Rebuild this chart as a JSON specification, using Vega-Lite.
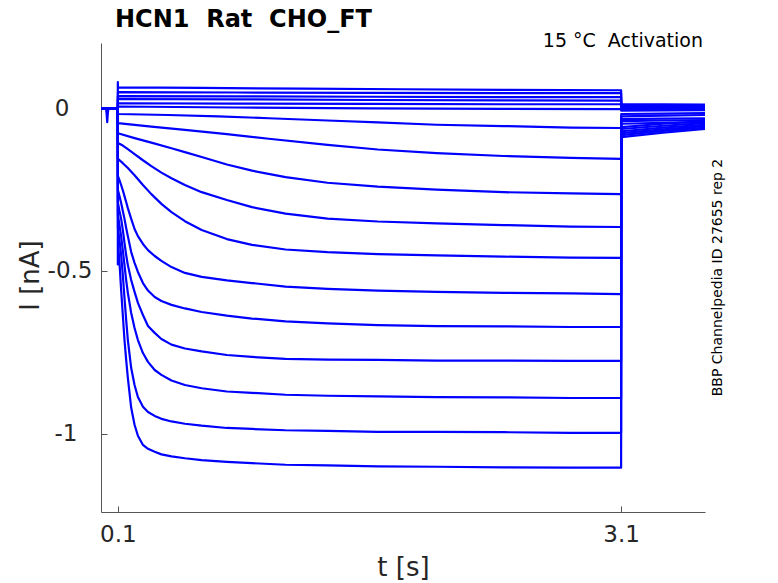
{
  "$schema": "https://vega.github.io/schema/vega-lite/v6.json",
  "description": "HCN1 rat CHO_FT activation sweeps at 15 C",
  "width": 604,
  "height": 469,
  "autosize": {"type": "none"},
  "padding": {"left": 101, "top": 43, "right": 73, "bottom": 71},
  "background": "#ffffff",
  "datasets": {
    "sweeps": [
      {"s": 1, "t": 0, "I": 0}, {"s": 1, "t": 0.03, "I": 0}, {"s": 1, "t": 0.034, "I": -0.02}, {"s": 1, "t": 0.037, "I": -0.043}, {"s": 1, "t": 0.04, "I": -0.02}, {"s": 1, "t": 0.044, "I": 0}, {"s": 1, "t": 0.1, "I": 0},
      {"s": 1, "t": 0.1004, "I": 0.08}, {"s": 1, "t": 0.101, "I": 0.064}, {"s": 1, "t": 0.6, "I": 0.062}, {"s": 1, "t": 1.2, "I": 0.06}, {"s": 1, "t": 1.8, "I": 0.058}, {"s": 1, "t": 2.4, "I": 0.056}, {"s": 1, "t": 3.1, "I": 0.055},
      {"s": 1, "t": 3.101, "I": 0.012}, {"s": 1, "t": 3.35, "I": 0.012}, {"s": 1, "t": 3.6, "I": 0.011},

      {"s": 2, "t": 0, "I": 0}, {"s": 2, "t": 0.1, "I": 0}, {"s": 2, "t": 0.101, "I": 0.049}, {"s": 2, "t": 0.8, "I": 0.048}, {"s": 2, "t": 1.6, "I": 0.047}, {"s": 2, "t": 2.4, "I": 0.046}, {"s": 2, "t": 3.1, "I": 0.046},
      {"s": 2, "t": 3.101, "I": 0.008}, {"s": 2, "t": 3.35, "I": 0.008}, {"s": 2, "t": 3.6, "I": 0.008},

      {"s": 3, "t": 0, "I": 0}, {"s": 3, "t": 0.1, "I": 0}, {"s": 3, "t": 0.101, "I": 0.037}, {"s": 3, "t": 0.8, "I": 0.036}, {"s": 3, "t": 1.6, "I": 0.035}, {"s": 3, "t": 2.4, "I": 0.034}, {"s": 3, "t": 3.1, "I": 0.034},
      {"s": 3, "t": 3.101, "I": 0.003}, {"s": 3, "t": 3.35, "I": 0.003}, {"s": 3, "t": 3.6, "I": 0.003},

      {"s": 4, "t": 0, "I": 0}, {"s": 4, "t": 0.1, "I": 0}, {"s": 4, "t": 0.101, "I": 0.028}, {"s": 4, "t": 0.8, "I": 0.027}, {"s": 4, "t": 1.6, "I": 0.025}, {"s": 4, "t": 2.4, "I": 0.024}, {"s": 4, "t": 3.1, "I": 0.023},
      {"s": 4, "t": 3.101, "I": 0}, {"s": 4, "t": 3.35, "I": 0}, {"s": 4, "t": 3.6, "I": 0},

      {"s": 5, "t": 0, "I": 0}, {"s": 5, "t": 0.1, "I": 0}, {"s": 5, "t": 0.101, "I": 0.015}, {"s": 5, "t": 0.8, "I": 0.014}, {"s": 5, "t": 1.6, "I": 0.013}, {"s": 5, "t": 2.4, "I": 0.012}, {"s": 5, "t": 3.1, "I": 0.012},
      {"s": 5, "t": 3.101, "I": -0.005}, {"s": 5, "t": 3.35, "I": -0.004}, {"s": 5, "t": 3.6, "I": -0.003},

      {"s": 6, "t": 0, "I": 0}, {"s": 6, "t": 0.1, "I": 0}, {"s": 6, "t": 0.101, "I": 0.005}, {"s": 6, "t": 0.8, "I": 0.002}, {"s": 6, "t": 1.6, "I": -0.001}, {"s": 6, "t": 2.4, "I": -0.002}, {"s": 6, "t": 3.1, "I": -0.003},
      {"s": 6, "t": 3.101, "I": -0.008}, {"s": 6, "t": 3.35, "I": -0.007}, {"s": 6, "t": 3.6, "I": -0.006},

      {"s": 7, "t": 0, "I": 0}, {"s": 7, "t": 0.1, "I": 0}, {"s": 7, "t": 0.101, "I": -0.018}, {"s": 7, "t": 0.4, "I": -0.021}, {"s": 7, "t": 0.7, "I": -0.025}, {"s": 7, "t": 1.0, "I": -0.031}, {"s": 7, "t": 1.35, "I": -0.038},
      {"s": 7, "t": 1.65, "I": -0.044}, {"s": 7, "t": 2.0, "I": -0.051}, {"s": 7, "t": 2.4, "I": -0.055}, {"s": 7, "t": 2.8, "I": -0.06}, {"s": 7, "t": 3.1, "I": -0.061},
      {"s": 7, "t": 3.101, "I": -0.018}, {"s": 7, "t": 3.35, "I": -0.017}, {"s": 7, "t": 3.6, "I": -0.015},

      {"s": 8, "t": 0, "I": 0}, {"s": 8, "t": 0.1, "I": 0}, {"s": 8, "t": 0.101, "I": -0.046}, {"s": 8, "t": 0.3, "I": -0.057}, {"s": 8, "t": 0.5, "I": -0.067}, {"s": 8, "t": 0.75, "I": -0.08}, {"s": 8, "t": 1.0, "I": -0.094},
      {"s": 8, "t": 1.35, "I": -0.113}, {"s": 8, "t": 1.65, "I": -0.127}, {"s": 8, "t": 2.0, "I": -0.138}, {"s": 8, "t": 2.4, "I": -0.147}, {"s": 8, "t": 2.8, "I": -0.153}, {"s": 8, "t": 3.1, "I": -0.156},
      {"s": 8, "t": 3.101, "I": -0.025}, {"s": 8, "t": 3.35, "I": -0.023}, {"s": 8, "t": 3.6, "I": -0.021},

      {"s": 9, "t": 0, "I": 0}, {"s": 9, "t": 0.1, "I": 0}, {"s": 9, "t": 0.101, "I": -0.077}, {"s": 9, "t": 0.2, "I": -0.092}, {"s": 9, "t": 0.3, "I": -0.106}, {"s": 9, "t": 0.42, "I": -0.123}, {"s": 9, "t": 0.5, "I": -0.135},
      {"s": 9, "t": 0.6, "I": -0.15}, {"s": 9, "t": 0.75, "I": -0.173}, {"s": 9, "t": 0.9, "I": -0.192}, {"s": 9, "t": 1.1, "I": -0.212}, {"s": 9, "t": 1.35, "I": -0.229}, {"s": 9, "t": 1.65, "I": -0.241},
      {"s": 9, "t": 2.0, "I": -0.25}, {"s": 9, "t": 2.4, "I": -0.258}, {"s": 9, "t": 2.8, "I": -0.262}, {"s": 9, "t": 3.1, "I": -0.264},
      {"s": 9, "t": 3.101, "I": -0.034}, {"s": 9, "t": 3.35, "I": -0.032}, {"s": 9, "t": 3.6, "I": -0.031},

      {"s": 10, "t": 0, "I": 0}, {"s": 10, "t": 0.1, "I": 0}, {"s": 10, "t": 0.101, "I": -0.107}, {"s": 10, "t": 0.13, "I": -0.115}, {"s": 10, "t": 0.16, "I": -0.126}, {"s": 10, "t": 0.2, "I": -0.141}, {"s": 10, "t": 0.25, "I": -0.16},
      {"s": 10, "t": 0.3, "I": -0.178}, {"s": 10, "t": 0.36, "I": -0.198}, {"s": 10, "t": 0.42, "I": -0.215}, {"s": 10, "t": 0.5, "I": -0.236}, {"s": 10, "t": 0.6, "I": -0.258}, {"s": 10, "t": 0.75, "I": -0.282},
      {"s": 10, "t": 0.9, "I": -0.304}, {"s": 10, "t": 1.1, "I": -0.324}, {"s": 10, "t": 1.35, "I": -0.339}, {"s": 10, "t": 1.65, "I": -0.348}, {"s": 10, "t": 2.0, "I": -0.354}, {"s": 10, "t": 2.4, "I": -0.359},
      {"s": 10, "t": 2.8, "I": -0.364}, {"s": 10, "t": 3.1, "I": -0.365},
      {"s": 10, "t": 3.101, "I": -0.04}, {"s": 10, "t": 3.35, "I": -0.038}, {"s": 10, "t": 3.6, "I": -0.037},

      {"s": 11, "t": 0, "I": 0}, {"s": 11, "t": 0.1, "I": 0}, {"s": 11, "t": 0.101, "I": -0.156}, {"s": 11, "t": 0.13, "I": -0.169}, {"s": 11, "t": 0.16, "I": -0.184}, {"s": 11, "t": 0.2, "I": -0.206}, {"s": 11, "t": 0.25, "I": -0.236},
      {"s": 11, "t": 0.3, "I": -0.264}, {"s": 11, "t": 0.36, "I": -0.294}, {"s": 11, "t": 0.42, "I": -0.319}, {"s": 11, "t": 0.5, "I": -0.347}, {"s": 11, "t": 0.6, "I": -0.374}, {"s": 11, "t": 0.75, "I": -0.402},
      {"s": 11, "t": 0.9, "I": -0.42}, {"s": 11, "t": 1.1, "I": -0.434}, {"s": 11, "t": 1.35, "I": -0.442}, {"s": 11, "t": 1.65, "I": -0.448}, {"s": 11, "t": 2.0, "I": -0.452}, {"s": 11, "t": 2.4, "I": -0.456},
      {"s": 11, "t": 2.8, "I": -0.459}, {"s": 11, "t": 3.1, "I": -0.46},
      {"s": 11, "t": 3.101, "I": -0.048}, {"s": 11, "t": 3.35, "I": -0.045}, {"s": 11, "t": 3.6, "I": -0.043},

      {"s": 12, "t": 0, "I": 0}, {"s": 12, "t": 0.1, "I": 0}, {"s": 12, "t": 0.101, "I": -0.209}, {"s": 12, "t": 0.11, "I": -0.221}, {"s": 12, "t": 0.12, "I": -0.236}, {"s": 12, "t": 0.13, "I": -0.252}, {"s": 12, "t": 0.14, "I": -0.27},
      {"s": 12, "t": 0.15, "I": -0.288}, {"s": 12, "t": 0.16, "I": -0.307}, {"s": 12, "t": 0.18, "I": -0.34}, {"s": 12, "t": 0.2, "I": -0.371}, {"s": 12, "t": 0.22, "I": -0.393}, {"s": 12, "t": 0.25, "I": -0.417},
      {"s": 12, "t": 0.28, "I": -0.436}, {"s": 12, "t": 0.32, "I": -0.454}, {"s": 12, "t": 0.36, "I": -0.469}, {"s": 12, "t": 0.42, "I": -0.488}, {"s": 12, "t": 0.5, "I": -0.506}, {"s": 12, "t": 0.6, "I": -0.518},
      {"s": 12, "t": 0.75, "I": -0.529}, {"s": 12, "t": 0.9, "I": -0.537}, {"s": 12, "t": 1.1, "I": -0.548}, {"s": 12, "t": 1.35, "I": -0.555}, {"s": 12, "t": 1.65, "I": -0.56}, {"s": 12, "t": 2.0, "I": -0.564},
      {"s": 12, "t": 2.4, "I": -0.567}, {"s": 12, "t": 2.8, "I": -0.569}, {"s": 12, "t": 3.1, "I": -0.571},
      {"s": 12, "t": 3.101, "I": -0.058}, {"s": 12, "t": 3.35, "I": -0.048}, {"s": 12, "t": 3.6, "I": -0.04},

      {"s": 13, "t": 0, "I": 0}, {"s": 13, "t": 0.1, "I": 0}, {"s": 13, "t": 0.101, "I": -0.252}, {"s": 13, "t": 0.11, "I": -0.27}, {"s": 13, "t": 0.12, "I": -0.291}, {"s": 13, "t": 0.13, "I": -0.316}, {"s": 13, "t": 0.14, "I": -0.34},
      {"s": 13, "t": 0.15, "I": -0.368}, {"s": 13, "t": 0.16, "I": -0.393}, {"s": 13, "t": 0.18, "I": -0.442}, {"s": 13, "t": 0.2, "I": -0.475}, {"s": 13, "t": 0.22, "I": -0.503}, {"s": 13, "t": 0.25, "I": -0.537},
      {"s": 13, "t": 0.28, "I": -0.56}, {"s": 13, "t": 0.32, "I": -0.58}, {"s": 13, "t": 0.36, "I": -0.592}, {"s": 13, "t": 0.42, "I": -0.604}, {"s": 13, "t": 0.5, "I": -0.615}, {"s": 13, "t": 0.6, "I": -0.626},
      {"s": 13, "t": 0.75, "I": -0.637}, {"s": 13, "t": 0.9, "I": -0.646}, {"s": 13, "t": 1.1, "I": -0.655}, {"s": 13, "t": 1.35, "I": -0.661}, {"s": 13, "t": 1.65, "I": -0.666}, {"s": 13, "t": 2.0, "I": -0.669},
      {"s": 13, "t": 2.4, "I": -0.67}, {"s": 13, "t": 2.8, "I": -0.672}, {"s": 13, "t": 3.1, "I": -0.672},
      {"s": 13, "t": 3.101, "I": -0.064}, {"s": 13, "t": 3.35, "I": -0.054}, {"s": 13, "t": 3.6, "I": -0.046},

      {"s": 14, "t": 0, "I": 0}, {"s": 14, "t": 0.1, "I": 0}, {"s": 14, "t": 0.101, "I": -0.291}, {"s": 14, "t": 0.11, "I": -0.316}, {"s": 14, "t": 0.12, "I": -0.34}, {"s": 14, "t": 0.13, "I": -0.374}, {"s": 14, "t": 0.14, "I": -0.414},
      {"s": 14, "t": 0.15, "I": -0.451}, {"s": 14, "t": 0.16, "I": -0.482}, {"s": 14, "t": 0.18, "I": -0.528}, {"s": 14, "t": 0.2, "I": -0.564}, {"s": 14, "t": 0.22, "I": -0.598}, {"s": 14, "t": 0.25, "I": -0.635},
      {"s": 14, "t": 0.28, "I": -0.669}, {"s": 14, "t": 0.32, "I": -0.69}, {"s": 14, "t": 0.36, "I": -0.709}, {"s": 14, "t": 0.42, "I": -0.726}, {"s": 14, "t": 0.5, "I": -0.738}, {"s": 14, "t": 0.6, "I": -0.747},
      {"s": 14, "t": 0.75, "I": -0.758}, {"s": 14, "t": 0.9, "I": -0.764}, {"s": 14, "t": 1.1, "I": -0.77}, {"s": 14, "t": 1.35, "I": -0.772}, {"s": 14, "t": 1.65, "I": -0.773}, {"s": 14, "t": 2.0, "I": -0.775},
      {"s": 14, "t": 2.4, "I": -0.775}, {"s": 14, "t": 2.8, "I": -0.776}, {"s": 14, "t": 3.1, "I": -0.776},
      {"s": 14, "t": 3.101, "I": -0.071}, {"s": 14, "t": 3.35, "I": -0.06}, {"s": 14, "t": 3.6, "I": -0.051},

      {"s": 15, "t": 0, "I": 0}, {"s": 15, "t": 0.1, "I": 0}, {"s": 15, "t": 0.101, "I": -0.328}, {"s": 15, "t": 0.11, "I": -0.359}, {"s": 15, "t": 0.12, "I": -0.393}, {"s": 15, "t": 0.13, "I": -0.436}, {"s": 15, "t": 0.14, "I": -0.482},
      {"s": 15, "t": 0.15, "I": -0.528}, {"s": 15, "t": 0.16, "I": -0.567}, {"s": 15, "t": 0.18, "I": -0.629}, {"s": 15, "t": 0.2, "I": -0.675}, {"s": 15, "t": 0.22, "I": -0.712}, {"s": 15, "t": 0.25, "I": -0.752},
      {"s": 15, "t": 0.28, "I": -0.779}, {"s": 15, "t": 0.32, "I": -0.804}, {"s": 15, "t": 0.36, "I": -0.819}, {"s": 15, "t": 0.42, "I": -0.836}, {"s": 15, "t": 0.5, "I": -0.85}, {"s": 15, "t": 0.6, "I": -0.86},
      {"s": 15, "t": 0.75, "I": -0.87}, {"s": 15, "t": 0.9, "I": -0.874}, {"s": 15, "t": 1.1, "I": -0.88}, {"s": 15, "t": 1.35, "I": -0.883}, {"s": 15, "t": 1.65, "I": -0.885}, {"s": 15, "t": 2.0, "I": -0.887},
      {"s": 15, "t": 2.4, "I": -0.888}, {"s": 15, "t": 2.8, "I": -0.89}, {"s": 15, "t": 3.1, "I": -0.89},
      {"s": 15, "t": 3.101, "I": -0.077}, {"s": 15, "t": 3.35, "I": -0.065}, {"s": 15, "t": 3.6, "I": -0.055},

      {"s": 16, "t": 0, "I": 0}, {"s": 16, "t": 0.1, "I": 0}, {"s": 16, "t": 0.101, "I": -0.368}, {"s": 16, "t": 0.11, "I": -0.405}, {"s": 16, "t": 0.12, "I": -0.451}, {"s": 16, "t": 0.13, "I": -0.512}, {"s": 16, "t": 0.14, "I": -0.583},
      {"s": 16, "t": 0.15, "I": -0.65}, {"s": 16, "t": 0.16, "I": -0.712}, {"s": 16, "t": 0.18, "I": -0.798}, {"s": 16, "t": 0.2, "I": -0.85}, {"s": 16, "t": 0.22, "I": -0.887}, {"s": 16, "t": 0.25, "I": -0.917},
      {"s": 16, "t": 0.28, "I": -0.933}, {"s": 16, "t": 0.32, "I": -0.945}, {"s": 16, "t": 0.36, "I": -0.954}, {"s": 16, "t": 0.42, "I": -0.962}, {"s": 16, "t": 0.5, "I": -0.969}, {"s": 16, "t": 0.6, "I": -0.975},
      {"s": 16, "t": 0.75, "I": -0.982}, {"s": 16, "t": 0.9, "I": -0.985}, {"s": 16, "t": 1.1, "I": -0.989}, {"s": 16, "t": 1.35, "I": -0.991}, {"s": 16, "t": 1.65, "I": -0.994}, {"s": 16, "t": 2.0, "I": -0.994},
      {"s": 16, "t": 2.4, "I": -0.995}, {"s": 16, "t": 2.8, "I": -0.997}, {"s": 16, "t": 3.1, "I": -0.997},
      {"s": 16, "t": 3.101, "I": -0.083}, {"s": 16, "t": 3.35, "I": -0.07}, {"s": 16, "t": 3.6, "I": -0.06},

      {"s": 17, "t": 0, "I": 0}, {"s": 17, "t": 0.1, "I": 0}, {"s": 17, "t": 0.1004, "I": -0.48}, {"s": 17, "t": 0.101, "I": -0.411}, {"s": 17, "t": 0.11, "I": -0.472}, {"s": 17, "t": 0.12, "I": -0.558}, {"s": 17, "t": 0.13, "I": -0.635},
      {"s": 17, "t": 0.14, "I": -0.712}, {"s": 17, "t": 0.15, "I": -0.773}, {"s": 17, "t": 0.16, "I": -0.828}, {"s": 17, "t": 0.18, "I": -0.92}, {"s": 17, "t": 0.2, "I": -0.972}, {"s": 17, "t": 0.22, "I": -1.006},
      {"s": 17, "t": 0.25, "I": -1.034}, {"s": 17, "t": 0.28, "I": -1.046}, {"s": 17, "t": 0.32, "I": -1.055}, {"s": 17, "t": 0.36, "I": -1.063}, {"s": 17, "t": 0.42, "I": -1.069}, {"s": 17, "t": 0.5, "I": -1.075},
      {"s": 17, "t": 0.6, "I": -1.081}, {"s": 17, "t": 0.75, "I": -1.086}, {"s": 17, "t": 0.9, "I": -1.09}, {"s": 17, "t": 1.1, "I": -1.095}, {"s": 17, "t": 1.35, "I": -1.097}, {"s": 17, "t": 1.65, "I": -1.1},
      {"s": 17, "t": 2.0, "I": -1.101}, {"s": 17, "t": 2.4, "I": -1.103}, {"s": 17, "t": 2.8, "I": -1.104}, {"s": 17, "t": 3.1, "I": -1.104},
      {"s": 17, "t": 3.101, "I": -0.089}, {"s": 17, "t": 3.35, "I": -0.075}, {"s": 17, "t": 3.6, "I": -0.064}
    ],
    "notes": [{"label": "15 °C\u00a0 Activation"}],
    "heading": [{"label": "HCN1\u00a0 Rat\u00a0 CHO_FT"}]
  },
  "layer": [
    {
      "data": {"name": "sweeps"},
      "mark": {"type": "line", "color": "#0000ff", "strokeWidth": 2.2, "strokeJoin": "round"},
      "encoding": {
        "x": {
          "field": "t",
          "type": "quantitative",
          "scale": {"domain": [0, 3.6], "nice": false, "zero": false},
          "axis": {
            "values": [0.1, 3.1],
            "format": ".1f",
            "grid": false,
            "title": "t [s]",
            "titleFont": "DejaVu Sans",
            "titleFontSize": 26,
            "titleFontWeight": "normal",
            "titleColor": "#262626",
            "titleBaseline": "alphabetic",
            "titleY": 63,
            "labelFont": "DejaVu Sans",
            "labelFontSize": 23,
            "labelColor": "#262626",
            "labelBaseline": "top",
            "labelPadding": 17,
            "labelFlush": false,
            "tickSize": -6,
            "tickColor": "#555555",
            "domainColor": "#555555",
            "domainWidth": 1
          }
        },
        "y": {
          "field": "I",
          "type": "quantitative",
          "scale": {"domain": [-1.24, 0.2], "nice": false, "zero": false},
          "axis": {
            "values": [-1, -0.5, 0],
            "labelExpr": "datum.value == 0 ? '0' : datum.value == -1 ? '-1' : '-0.5'",
            "grid": false,
            "title": "I [nA]",
            "titleFont": "DejaVu Sans",
            "titleFontSize": 26,
            "titleFontWeight": "normal",
            "titleColor": "#262626",
            "titleAngle": 270,
            "titleAlign": "center",
            "titleBaseline": "alphabetic",
            "titleX": -63,
            "titleY": 232,
            "labelFont": "DejaVu Sans",
            "labelFontSize": 23,
            "labelColor": "#262626",
            "labelAlign": "right",
            "labelBaseline": "middle",
            "labelPadding": {
              "condition": [
                {"test": "datum.value == 0", "value": 38},
                {"test": "datum.value == -1", "value": 30}
              ],
              "value": 15
            },
            "tickSize": -6,
            "tickColor": "#555555",
            "domainColor": "#555555",
            "domainWidth": 1
          }
        },
        "detail": {"field": "s", "type": "nominal"}
      }
    },
    {
      "data": {"name": "notes"},
      "mark": {
        "type": "text",
        "align": "right",
        "baseline": "middle",
        "font": "DejaVu Sans",
        "fontSize": 19,
        "color": "#000000",
        "dx": -2,
        "dy": -2
      },
      "encoding": {
        "text": {"field": "label"},
        "x": {"datum": 3.6, "type": "quantitative"},
        "y": {
          "datum": 0.2,
          "type": "quantitative",
          "scale": {"domain": [-1.24, 0.2], "nice": false, "zero": false},
          "axis": {
            "orient": "right",
            "domain": false,
            "ticks": false,
            "labels": false,
            "grid": false,
            "title": "BBP Channelpedia ID 27655 rep 2",
            "titleFont": "DejaVu Sans",
            "titleFontSize": 14,
            "titleFontWeight": "normal",
            "titleColor": "#000000",
            "titleAngle": 270,
            "titleAlign": "center",
            "titleBaseline": "alphabetic",
            "titleX": 16,
            "titleY": 234
          }
        }
      }
    },
    {
      "data": {"name": "heading"},
      "mark": {
        "type": "text",
        "align": "left",
        "baseline": "alphabetic",
        "font": "DejaVu Sans",
        "fontSize": 24,
        "fontWeight": "bold",
        "color": "#000000",
        "dx": 14,
        "dy": -16
      },
      "encoding": {
        "text": {"field": "label"},
        "x": {"datum": 0, "type": "quantitative"},
        "y": {
          "datum": 0.2,
          "type": "quantitative",
          "scale": {"domain": [-1.24, 0.2], "nice": false, "zero": false},
          "axis": null
        }
      }
    }
  ],
  "resolve": {"scale": {"y": "independent"}},
  "config": {
    "view": {"stroke": null},
    "font": "DejaVu Sans"
  }
}
